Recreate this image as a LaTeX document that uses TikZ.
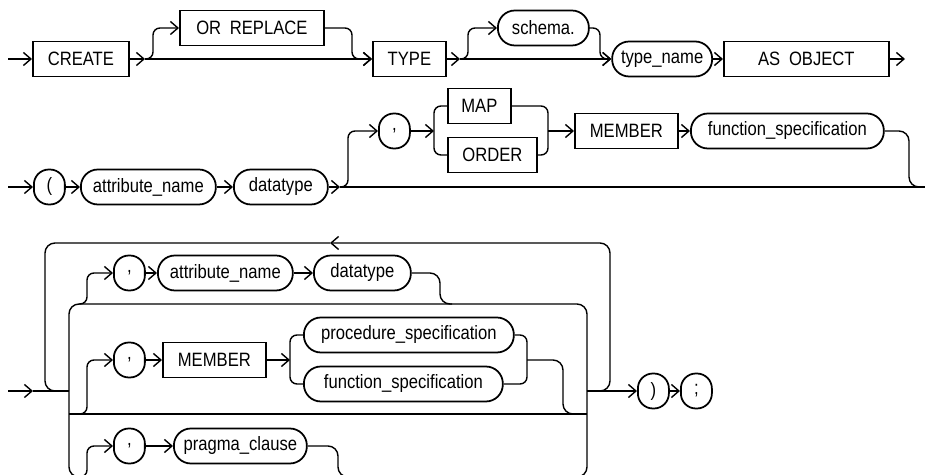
\documentclass[tikz,border=0pt]{standalone}
\usepackage{fontspec}
\setmainfont{Liberation Sans}[FakeStretch=0.86]
\usepackage{tikz}
\usetikzlibrary{arrows.meta}
\tikzset{
    syntaxkw/.style={draw, line width=1pt, inner xsep=2pt, inner ysep=0pt, minimum height=0.7cm, font=\fontsize{11}{13}\selectfont},
    syntaxterm/.style={syntaxkw, rounded corners=0.34cm},
    syntaxpunct/.style={syntaxkw, rounded corners=0.3cm, minimum width=0.62cm, inner xsep=0pt},
    syntaxline/.style={draw, line width=0.8pt, rounded corners=0.14cm},
    syntaxarrow/.style={syntaxline, -{Straight Barb[length=1.5mm, width=2.6mm]}},
    syntaxloop/.style={syntaxline, rounded corners=0.2cm}
}

\begin{document}
\begin{tikzpicture}[x=0.02cm, y=-0.02cm]
    \useasboundingbox (0,0) rectangle (925,475);
    \clip (0,0) rectangle (925,475);

    \node[syntaxkw, anchor=west, minimum width=1.92cm] (create) at (32,59) {CREATE};
    \node[syntaxkw, anchor=west, minimum width=2.88cm] (orreplace) at (179,28) {OR\hspace{0.45em}REPLACE};
    \node[syntaxkw, anchor=west, minimum width=1.46cm] (type) at (372,59) {TYPE};
    \node[syntaxterm, anchor=west, minimum width=1.82cm] (schema) at (497,28) {schema.};
    \node[syntaxterm, anchor=east, minimum width=2cm] (typename) at (713,59) {type\_name};
    \node[syntaxkw, anchor=west, minimum width=3.3cm] (asobject) at (723,59) {AS\hspace{0.45em}OBJECT};
    \coordinate (start1) at (8,59);
    \coordinate (j1) at (145,59);
    \coordinate (j1r) at (352,59);
    \coordinate (j2) at (460,59);
    \coordinate (j2r) at (600,59);
    \coordinate (end1) at (905,59);

    \draw[syntaxarrow] (start1) -- (create.west);
    \draw[syntaxarrow] (create.east) -- (j1);
    \draw[syntaxarrow] (j1) -- (type.west);
    \draw[syntaxarrow] (j1) -- ++(8,0) |- (orreplace.west);
    \draw[syntaxarrow] (orreplace.east) -| (j1r) -- (type.west);
    \draw[syntaxarrow] (type.east) -- (j2);
    \draw[syntaxarrow] (j2) -- (typename.west);
    \draw[syntaxarrow] (j2) -- ++(8,0) |- (schema.west);
    \draw[syntaxarrow] (schema.east) -| (j2r) -- (typename.west);
    \draw[syntaxarrow] (typename) -- (asobject);
    \draw[syntaxarrow] (asobject) -- (end1);

    \node[syntaxpunct, anchor=west] (lparen) at (33,187) {(};
    \node[syntaxterm, anchor=west, minimum width=2.7cm] (attrname) at (80,187) {attribute\_name};
    \node[syntaxterm, anchor=west, minimum width=1.88cm] (datatype) at (233,187) {datatype};
    \node[syntaxpunct, anchor=west] (comma) at (378,131) {,};
    \node[syntaxkw, anchor=west, minimum width=1.26cm] (map) at (447,106) {MAP};
    \node[syntaxkw, anchor=west, minimum width=1.78cm] (order) at (447,155) {ORDER};
    \node[syntaxkw, anchor=west, minimum width=2.06cm] (member) at (574,131) {MEMBER};
    \node[syntaxterm, anchor=west, minimum width=3.86cm] (funcspec) at (690,131) {function\_specification};
    \coordinate (start2) at (8,187);
    \coordinate (j3) at (340,187);
    \coordinate (j4) at (434,131);
    \coordinate (j5) at (548,131);
    \coordinate (j6) at (909,187);
    \coordinate (end2) at (925,187);

    \draw[syntaxarrow] (start2) -- (lparen.west);
    \draw[syntaxarrow] (lparen) -- (attrname);
    \draw[syntaxarrow] (attrname) -- (datatype);
    \draw[syntaxarrow] (datatype) -- (j3);
    \draw[syntaxline] (j3) -- (end2);
    \draw[syntaxarrow] (j3) -- ++(8,0) |- (comma.west);
    \draw[syntaxarrow] (comma) -- (j4);
    \draw[syntaxline] (map.west) -| (j4) |- (order.west);
    \draw[syntaxline] (map.east) -| (j5) |- (order.east);
    \draw[syntaxarrow] (j5) -- (member.west);
    \draw[syntaxarrow] (member) -- (funcspec);
    \draw[syntaxloop] (funcspec.east) -| (j6) -- (end2);

    \node[syntaxpunct, anchor=west] (comma2) at (113,273) {,};
    \node[syntaxterm, anchor=west, minimum width=2.7cm] (attrname2) at (157,273) {attribute\_name};
    \node[syntaxterm, anchor=west, minimum width=1.94cm] (datatype2) at (313,273) {datatype};
    \node[syntaxpunct, anchor=west] (comma3) at (113,360) {,};
    \node[syntaxkw, anchor=west, minimum width=2.06cm] (member2) at (162,360) {MEMBER};
    \node[syntaxterm, anchor=west, minimum width=4.2cm] (procspec) at (303,335) {procedure\_specification};
    \node[syntaxterm, anchor=west, minimum width=3.98cm] (funcspec2) at (303,384) {function\_specification};
    \node[syntaxpunct, anchor=west] (comma4) at (113,446) {,};
    \node[syntaxterm, anchor=west, minimum width=2.66cm] (pragma) at (173,446) {pragma\_clause};
    \node[syntaxpunct, anchor=west] (rparen) at (637,391) {)};
    \node[syntaxpunct, anchor=west] (semi) at (680,391) {;};
    \coordinate (start3) at (8,391);
    \coordinate (in3) at (33,391);
    \coordinate (jl) at (69,391);
    \coordinate (jr) at (587,391);
    \coordinate (railtop) at (330,304);
    \coordinate (railbot) at (330,477);
    \coordinate (railmidl) at (69,414);
    \coordinate (railmidr) at (587,414);
    \coordinate (loopr) at (598,391);
    \coordinate (looptip) at (330,243);
    \coordinate (loopl) at (45,391);
    \coordinate (bra) at (79,304);
    \coordinate (brb) at (79,414);
    \coordinate (brc) at (79,477);
    \coordinate (ara) at (440,304);
    \coordinate (jb1) at (290,360);
    \coordinate (jb2) at (527,360);
    \coordinate (arb) at (563,414);
    \coordinate (arc) at (338,477);

    \draw[syntaxarrow] (start3) -- (in3);
    \draw[syntaxline] (in3) -- (jl);
    \draw[syntaxloop] (jl) |- (railtop) -| (jr);
    \draw[syntaxloop] (jl) |- (railbot) -| (jr);
    \draw[syntaxline] (railmidl) -- (railmidr);
    \draw[syntaxloop, -{Straight Barb[length=1.5mm, width=2.6mm]}] (loopr) -- ++(12,0) |- (looptip);
    \draw[syntaxloop] (looptip) -| (loopl) -- ++(12,0);
    \draw[syntaxarrow] (jr) -- (rparen.west);
    \draw[syntaxarrow] (rparen) -- (semi);

    \draw[syntaxarrow] (bra) -- ++(8,0) |- (comma2.west);
    \draw[syntaxarrow] (comma2) -- (attrname2);
    \draw[syntaxarrow] (attrname2) -- (datatype2);
    \draw[syntaxloop] (datatype2.east) -| (ara) -- ++(12,0);

    \draw[syntaxarrow] (brb) -- ++(8,0) |- (comma3.west);
    \draw[syntaxarrow] (comma3) -- (member2);
    \draw[syntaxarrow] (member2) -- (jb1);
    \draw[syntaxline] (procspec.west) -| (jb1) |- (funcspec2.west);
    \draw[syntaxline] (procspec.east) -| (jb2) |- (funcspec2.east);
    \draw[syntaxloop] (jb2) -| (arb) -- ++(12,0);

    \draw[syntaxarrow] (brc) -- ++(8,0) |- (comma4.west);
    \draw[syntaxarrow] (comma4) -- (pragma);
    \draw[syntaxloop] (pragma.east) -| (arc) -- ++(12,0);
\end{tikzpicture}
\end{document}
